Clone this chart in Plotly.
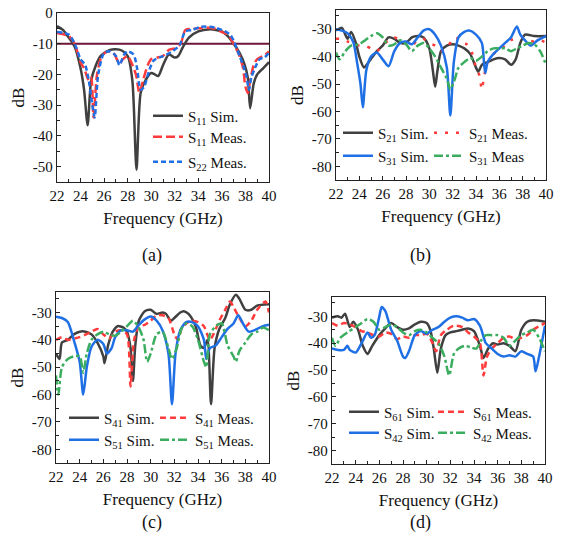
import plotly.graph_objects as go

W, H = 562, 548
FONT = "Liberation Serif"

# ---------------- Panel (a) ----------------
a_s11sim_f = [22, 22.5, 23, 23.5, 24, 24.3, 24.6, 24.9, 25.3, 25.7, 26, 26.5, 27, 27.5, 28, 28.4, 28.75, 29.1, 29.5, 30, 30.3, 30.6, 31, 31.5, 32, 32.3, 32.7, 33.2, 34, 35, 35.5, 36, 36.5, 37, 37.5, 37.9, 38.2, 38.4, 38.7, 39, 39.5, 40]
a_s11sim_db = [-4.3, -5.5, -8, -11, -18, -25, -36.5, -22, -17, -14, -13, -12, -11.8, -12.2, -14, -22, -51, -26, -22, -19.5, -20, -20.5, -17, -13.5, -14.5, -14, -11, -8, -6, -5.3, -5.5, -6, -7.5, -10, -13, -16.5, -21, -31, -23, -20, -18, -16]

a_s11meas_f = [22, 23, 23.5, 24, 24.3, 24.7, 24.9, 25.1, 25.4, 25.8, 26.3, 26.8, 27.3, 27.6, 28, 28.3, 28.7, 29, 29.3, 29.7, 30, 30.5, 31, 31.5, 32, 32.5, 32.9, 33.5, 34, 34.5, 35, 35.5, 36, 36.5, 37, 37.5, 37.8, 38, 38.2, 38.4, 38.7, 39, 39.5, 40]
a_s11meas_db = [-6.5, -7.5, -10, -16, -18, -22, -21, -34, -20, -14, -12.5, -13, -16.5, -15, -14, -16, -20, -26, -22, -17, -15, -14.5, -14, -12, -11.5, -10, -5.5, -5.2, -5, -4.8, -4.8, -5.2, -6.2, -7, -10, -14, -18, -24, -26, -22, -17, -15, -14, -12.5]

a_s22meas_f = [22, 23, 23.5, 24, 24.4, 24.7, 25, 25.2, 25.5, 26, 26.5, 27, 27.3, 27.7, 28, 28.5, 28.8, 29.1, 29.4, 29.8, 30.2, 31, 31.8, 32.4, 32.9, 33.5, 34.2, 35, 35.5, 36, 36.7, 37, 37.5, 37.8, 38.1, 38.3, 38.5, 38.8, 39.2, 39.6, 40]
a_s22meas_db = [-6.2, -7, -10, -15, -17, -22, -30, -34, -20, -13, -12.5, -14, -17, -13.5, -12.5, -13.5, -18, -25, -24, -19, -15.5, -14, -12.5, -10.5, -6, -5.5, -4.5, -4.5, -4.8, -5.5, -7, -9, -14, -17, -21, -25, -21, -18, -15, -14.5, -13]

a_ref_db = -10

# ---------------- Panel (b) ----------------
b_s21sim_f = [22, 22.5, 22.8, 23, 23.3, 23.7, 24, 24.4, 24.8, 25.5, 26, 26.5, 27, 27.5, 28, 28.5, 29, 29.5, 30, 30.3, 30.5, 30.7, 31, 31.5, 32, 32.5, 33, 33.5, 34, 34.2, 34.5, 35, 35.5, 36, 36.5, 37, 37.4, 37.8, 38.2, 39, 40]
b_s21sim_db = [-30.5, -29.5, -32, -33.5, -31, -35, -40, -44, -42, -38, -36, -33, -33.5, -35, -35, -33, -32.5, -33, -37, -45, -51, -45, -38, -36, -35.5, -36, -37, -39, -44, -45.5, -43, -42, -41, -40.5, -41, -43, -41, -35, -32, -32.5, -32.5]

b_s21meas_f = [22, 22.5, 23, 23.5, 24, 24.5, 25, 25.5, 26, 26.5, 27, 27.5, 28, 28.5, 29, 29.5, 30, 30.5, 31, 31.5, 32, 32.3, 32.7, 33.2, 33.7, 34, 34.3, 34.5, 34.7, 35, 35.5, 36, 36.5, 37, 37.5, 38, 38.5, 39, 39.5, 40]
b_s21meas_db = [-33.5, -33.5, -34.5, -35, -36, -36, -37, -38, -36, -34, -33, -34, -35, -36, -34, -33.5, -35, -36, -38, -37, -33.5, -33, -35, -35.5, -39, -44, -47, -52, -47, -42, -39, -37.5, -36, -34, -33.5, -33, -34, -34.5, -34, -35]

b_s31sim_f = [22, 22.5, 23, 23.5, 23.8, 24.1, 24.3, 24.6, 25, 25.5, 26, 26.5, 27, 27.5, 28, 28.5, 29, 29.5, 30, 30.5, 31, 31.5, 31.8, 32.1, 32.5, 33, 33.4, 34, 34.5, 34.7, 34.8, 35, 35.5, 36, 36.5, 37, 37.5, 37.8, 38.3, 38.7, 39.3, 40]
b_s31sim_db = [-30, -30.5, -31.5, -35, -42, -50, -58.5, -45, -40, -38.5, -41, -43.5, -38, -35, -34.5, -35.5, -33, -30.5, -30, -32, -36, -44, -61.5, -42, -33, -31, -30.5, -32, -35, -43, -46, -42, -39, -37, -35, -33, -29, -32, -34.5, -36, -34, -32.5]

b_s31meas_f = [22, 22.3, 22.8, 23.3, 24, 24.5, 25, 25.5, 26, 26.5, 27, 27.5, 28, 28.5, 29, 29.5, 30, 30.5, 31, 31.5, 31.8, 32.2, 32.5, 33, 33.5, 34, 34.5, 35, 35.5, 36, 36.5, 37, 37.5, 38, 38.5, 39, 39.5, 40]
b_s31meas_db = [-38.5, -41, -38, -36, -35.5, -34, -32.5, -31.5, -33, -36, -35.5, -34, -35.5, -38, -36, -35, -37, -40, -44, -48, -52, -48, -44, -42, -40.5, -41.5, -40, -38, -37, -37, -37, -38, -37, -36, -35, -35.5, -38, -43]

# ---------------- Panel (c) ----------------
c_s41sim_f = [22, 22.3, 22.5, 23, 23.5, 24, 24.5, 25, 25.5, 26, 26.1, 26.4, 26.8, 27.2, 27.7, 28, 28.3, 28.5, 28.7, 29, 29.5, 30, 30.5, 31, 31.3, 31.7, 32, 32.5, 32.8, 33.2, 33.8, 34.2, 34.5, 34.8, 35.1, 35.4, 35.8, 36.3, 36.7, 37.2, 37.5, 38, 38.5, 39, 40]
c_s41sim_db = [-45, -47, -41, -40, -38, -37, -37, -38, -41, -46, -48.5, -42, -37, -35, -35.5, -37, -43, -55, -42, -33, -29.5, -29, -30.5, -30, -30.5, -33, -32, -30, -29.5, -30.5, -35, -42, -43, -40, -63.5, -43, -36, -32, -27, -23.5, -25, -29, -29, -27.5, -27]

c_s41meas_f = [22, 22.5, 23, 23.5, 24, 25, 25.5, 26, 26.5, 27, 27.5, 28, 28.3, 28.6, 29, 29.5, 30, 30.5, 31, 31.5, 32, 32.3, 32.6, 33, 33.5, 34, 34.5, 35, 35.3, 35.8, 36.3, 36.7, 37, 37.5, 38, 38.5, 39, 39.7, 40]
c_s41meas_db = [-40, -39, -40, -39.5, -39, -37, -36, -38, -39.5, -37, -36.5, -38, -57, -40, -35, -34.5, -33, -31, -31, -32, -38, -40, -36, -34, -33, -33.5, -35, -40, -38, -33, -29, -26, -28, -32, -35, -33, -29, -26, -30]

c_s51sim_f = [22, 22.5, 23, 23.5, 24, 24.3, 24.6, 25, 25.5, 26, 26.3, 26.7, 27, 27.5, 28, 28.5, 29, 29.5, 30, 30.5, 31, 31.5, 31.8, 32.1, 32.5, 33, 33.5, 34, 34.5, 34.7, 35, 35.5, 36, 36.5, 37, 37.4, 37.8, 38.3, 39, 39.5, 40]
c_s51sim_db = [-31.5, -32, -33.5, -40, -48, -60, -50, -42.5, -40, -41.5, -45, -43, -39, -36.5, -36.5, -37, -34.5, -32.5, -31.5, -33, -36.5, -45, -63.5, -45, -36.5, -33.5, -33.5, -35, -40, -47, -43, -42, -39, -36, -34, -31, -34, -37, -36, -35, -34.5]

c_s51meas_f = [22, 22.2, 22.5, 23, 23.5, 24, 24.3, 24.6, 25, 25.5, 26, 26.5, 27, 27.5, 28, 28.5, 29, 29.4, 29.7, 30, 30.5, 31, 31.5, 31.8, 32.2, 32.6, 33, 33.5, 34, 34.5, 34.7, 35, 35.5, 36, 36.5, 37, 37.2, 37.5, 38, 38.5, 39, 39.5, 40]
c_s51meas_db = [-53, -60, -50, -47, -46, -46, -52, -45, -40, -38, -37, -38, -38.5, -37, -35, -33, -35.5, -40, -48, -45, -38, -37, -43, -47, -43, -36, -34, -35, -40, -48, -50, -38, -35, -34, -42, -46, -48, -44, -41, -38, -37, -35.5, -36.5]

# ---------------- Panel (d) ----------------
d_s61sim_f = [22, 22.5, 22.8, 23.1, 23.5, 23.8, 24.2, 24.6, 25, 25.4, 26, 26.5, 27, 27.5, 28, 28.5, 29, 29.5, 30, 30.3, 30.6, 30.9, 31.2, 31.6, 32, 32.5, 33, 33.5, 34, 34.5, 34.8, 35.2, 35.6, 36, 36.5, 37, 37.5, 38, 38.5, 39, 40]
d_s61sim_db = [-30.5, -30, -30.5, -29, -34, -32, -35, -41, -44, -41, -37, -34.5, -32.5, -34, -35, -34.5, -33, -32, -32.5, -35, -42, -51, -42, -37, -36, -35.5, -35, -34.5, -35.5, -41, -45.5, -42, -40, -40.5, -40, -41, -43, -35, -32, -31.5, -32]

d_s61meas_f = [22, 22.5, 23, 23.5, 24, 24.5, 25, 25.5, 26, 26.5, 27, 27.5, 28, 28.5, 29, 29.5, 30, 30.5, 30.8, 31.2, 31.7, 32.3, 33, 33.5, 34, 34.5, 34.8, 35.1, 35.5, 36, 36.5, 37, 37.5, 38, 38.5, 39, 40]
d_s61meas_db = [-32.5, -33.5, -32.5, -33, -34, -35.5, -36, -37, -37.5, -36, -36.5, -38.5, -37.5, -38, -37, -37, -36.5, -40, -43, -37, -35, -33.5, -34, -36, -37.5, -40, -52, -45, -42, -40, -38, -37.5, -38.5, -38, -37, -35, -32.5]

d_s42sim_f = [22, 22.5, 23, 23.3, 23.5, 24, 24.5, 25, 25.3, 25.6, 26, 26.2, 26.5, 27, 27.5, 28, 28.2, 28.5, 29, 29.5, 30, 30.5, 31, 31.5, 32, 32.5, 33, 33.5, 34, 34.5, 35, 35.5, 36, 36.5, 37, 37.5, 38, 38.5, 39, 39.2, 39.5, 40]
d_s42sim_db = [-42, -42.5, -42.5, -41, -42.5, -43.5, -40, -36, -38, -37, -30, -26.5, -28, -35, -39, -45, -45.5, -43, -37, -35.5, -36.5, -35, -34, -32, -30.5, -30, -30.5, -31.5, -31, -33.5, -40, -42, -44, -45, -44.5, -45, -43, -44, -45, -50.5, -45, -33.5]

d_s42meas_f = [22, 22.3, 22.7, 23.3, 24, 24.5, 25, 25.5, 26, 26.5, 27, 27.5, 28, 28.5, 29, 29.5, 30, 30.5, 31, 31.5, 31.9, 32.3, 32.7, 33.2, 33.7, 34.2, 34.6, 35, 35.5, 36, 36.5, 37, 37.5, 38, 38.5, 39, 39.5, 40]
d_s42meas_db = [-38, -41, -38, -36, -34, -32.5, -31, -32, -35, -34, -33, -34, -36, -37, -35.5, -35, -36, -38, -40, -45, -52, -44, -42, -41, -41.5, -42, -39, -37, -37, -37, -38, -41, -39, -37, -36, -35, -38, -43]

# tick labels
x_tickvals = [22, 24, 26, 28, 30, 32, 34, 36, 38, 40]
x_ticktext = ["22", "24", "26", "28", "30", "32", "34", "36", "38", "40"]
ya_tickvals = [0, -10, -20, -30, -40, -50]
ya_ticktext = ["0", "-10", "-20", "-30", "-40", "-50"]
yb_tickvals = [-30, -40, -50, -60, -70, -80]
yb_ticktext = ["-30", "-40", "-50", "-60", "-70", "-80"]

GRAY = "#404040"
RED = "#ff3b3b"
BLUE = "#1f6fe5"
GREEN = "#3aae5e"
MAROON = "#6e1538"

fig = go.Figure()

def add(f, v, name, color, dash, axis, legend, width=2.5, smooth=0.7):
    fig.add_trace(go.Scatter(
        x=f, y=v, name=name, mode="lines",
        line=dict(color=color, width=width, dash=dash, shape="spline", smoothing=smooth),
        xaxis="x" + axis, yaxis="y" + axis, legend=legend, showlegend=True,
    ))

DOT = "3px,8px"
DASHDOT = "9px,3px,3px,3px"

# panel a
fig.add_trace(go.Scatter(x=[22, 40], y=[a_ref_db, a_ref_db], mode="lines",
                         line=dict(color=MAROON, width=2), xaxis="x", yaxis="y", showlegend=False))
add(a_s11sim_f, a_s11sim_db, "S<sub>11</sub> Sim.", GRAY, "solid", "", "legend")
add(a_s11meas_f, a_s11meas_db, "S<sub>11</sub> Meas.", RED, "9px,4px", "", "legend2")
add(a_s22meas_f, a_s22meas_db, "S<sub>22</sub> Meas.", BLUE, "5px,3px", "", "legend3")

# panel b
add(b_s21sim_f, b_s21sim_db, "S<sub>21</sub> Sim.", GRAY, "solid", "2", "legend4")
add(b_s21meas_f, b_s21meas_db, "S<sub>21</sub> Meas.", RED, DOT, "2", "legend5")
add(b_s31sim_f, b_s31sim_db, "S<sub>31</sub> Sim.", BLUE, "solid", "2", "legend6")
add(b_s31meas_f, b_s31meas_db, "S<sub>31</sub> Meas", GREEN, DASHDOT, "2", "legend7")

# panel c
add(c_s41sim_f, c_s41sim_db, "S<sub>41</sub> Sim.", GRAY, "solid", "3", "legend8")
add(c_s41meas_f, c_s41meas_db, "S<sub>41</sub> Meas.", RED, "6px,4px", "3", "legend9")
add(c_s51sim_f, c_s51sim_db, "S<sub>51</sub> Sim.", BLUE, "solid", "3", "legend10")
add(c_s51meas_f, c_s51meas_db, "S<sub>51</sub> Meas.", GREEN, DASHDOT, "3", "legend11")

# panel d
add(d_s61sim_f, d_s61sim_db, "S<sub>61</sub> Sim.", GRAY, "solid", "4", "legend12")
add(d_s61meas_f, d_s61meas_db, "S<sub>61</sub> Meas.", RED, "6px,4px", "4", "legend13")
add(d_s42sim_f, d_s42sim_db, "S<sub>42</sub> Sim.", BLUE, "solid", "4", "legend14")
add(d_s42meas_f, d_s42meas_db, "S<sub>42</sub> Meas.", GREEN, DASHDOT, "4", "legend15")

def px(x):
    return x / W

def py(y):
    return 1 - y / H

def xaxis(dom, anchor):
    return dict(domain=[px(dom[0]), px(dom[1])], anchor=anchor, range=[22, 40],
                tickmode="array", tickvals=x_tickvals, ticktext=x_ticktext,
                ticks="inside", ticklen=4, tickwidth=1, tickcolor="#222",
                minor=dict(ticks="inside", ticklen=2.5, dtick=1, tickcolor="#222"),
                showline=True, linecolor="#222", linewidth=1.3, mirror=True,
                showgrid=False, zeroline=False, automargin=False,
                title=dict(text="Frequency (GHz)", font=dict(size=17, family=FONT), standoff=8),
                tickfont=dict(size=15, family=FONT, color="#111"))

def yaxis(dom, anchor, rng, tv, tt):
    return dict(domain=[py(dom[1]), py(dom[0])], anchor=anchor, range=rng,
                tickmode="array", tickvals=tv, ticktext=tt,
                ticks="inside", ticklen=4, tickwidth=1, tickcolor="#222",
                minor=dict(ticks="inside", ticklen=2.5, tick0=0, dtick=5, tickcolor="#222"),
                showline=True, linecolor="#222", linewidth=1.3, mirror=True,
                showgrid=False, zeroline=False, automargin=False,
                title=dict(text="dB", font=dict(size=17, family=FONT), standoff=3),
                tickfont=dict(size=15, family=FONT, color="#111"))

def leg(xp, yp):
    # xp: left end of the legend line symbol, yp: row centre (pixels)
    return dict(x=px(xp - 5), y=py(yp), xanchor="left", yanchor="middle",
                orientation="v", bgcolor="rgba(0,0,0,0)", borderwidth=0,
                font=dict(size=15, family=FONT, color="#111"),
                itemwidth=30, tracegroupgap=0, itemclick=False)

fig.update_layout(
    template="none",
    width=W, height=H, margin=dict(l=0, r=0, t=0, b=0, autoexpand=False),
    paper_bgcolor="white", plot_bgcolor="white",
    font=dict(family=FONT, size=15, color="#111"),
    xaxis=xaxis((57, 269), "y"),
    yaxis=yaxis((13, 182), "x", [-55, 0], ya_tickvals, ya_ticktext),
    xaxis2=xaxis((336, 546), "y2"),
    yaxis2=yaxis((10, 180), "x2", [-85, -23], yb_tickvals, yb_ticktext),
    xaxis3=xaxis((56, 269), "y3"),
    yaxis3=yaxis((292, 463), "x3", [-85, -22.5], yb_tickvals, yb_ticktext),
    xaxis4=xaxis((332, 545), "y4"),
    yaxis4=yaxis((297, 464), "x4", [-85, -22.8], yb_tickvals, yb_ticktext),
    legend=leg(153, 116),
    legend2=leg(153, 137),
    legend3=leg(153, 162),
    legend4=leg(343, 133),
    legend5=leg(434, 133),
    legend6=leg(343, 156),
    legend7=leg(434, 156),
    legend8=leg(69, 418),
    legend9=leg(160, 418),
    legend10=leg(69, 440),
    legend11=leg(160, 440),
    legend12=leg(349, 412),
    legend13=leg(438, 412),
    legend14=leg(349, 433),
    legend15=leg(438, 433),
    annotations=[
        dict(text="(a)", x=px(140), y=py(255), xref="paper", yref="paper", showarrow=False, font=dict(size=18, family=FONT)),
        dict(text="(b)", x=px(433), y=py(255), xref="paper", yref="paper", showarrow=False, font=dict(size=18, family=FONT)),
        dict(text="(c)", x=px(140), y=py(535), xref="paper", yref="paper", showarrow=False, font=dict(size=18, family=FONT)),
        dict(text="(d)", x=px(433), y=py(535), xref="paper", yref="paper", showarrow=False, font=dict(size=18, family=FONT)),
    ],
)

fig.write_html("out.html", config={"displayModeBar": False},
               post_script="document.body.style.margin='0';document.body.style.overflow='hidden';")
